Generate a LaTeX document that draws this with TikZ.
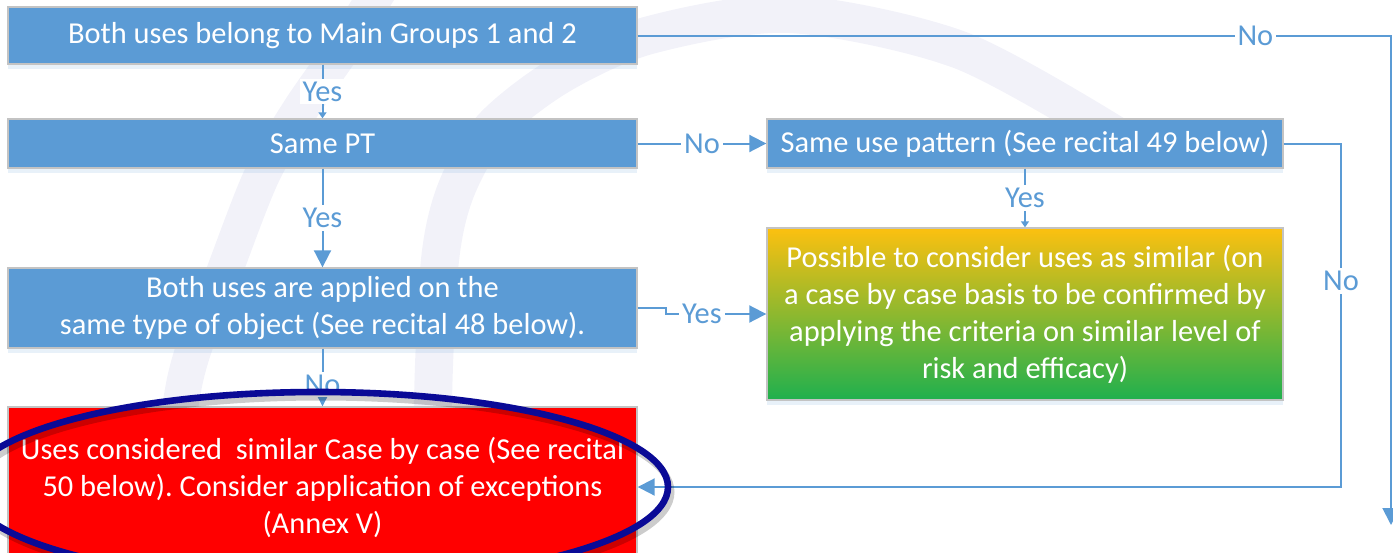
\documentclass[tikz,border=0pt]{standalone}
\usepackage{fontspec}
\setmainfont{Carlito}
\usetikzlibrary{arrows.meta,positioning,calc,shadows}

\definecolor{boxblue}{HTML}{5B9BD5}
\definecolor{boxedge}{HTML}{C3C3C3}
\definecolor{flowblue}{HTML}{5B9BD5}
\definecolor{topamber}{HTML}{FCC010}
\definecolor{botgreen}{HTML}{1FB04E}
\definecolor{ringblue}{HTML}{0A0A96}
\definecolor{markcol}{HTML}{F2F2F9}

\begin{document}
\frenchspacing
\begin{tikzpicture}[x=0.5pt,y=-0.5pt,
    blockbox/.style={draw=boxedge, line width=0.7pt, fill=boxblue, text=white, inner sep=0pt, align=center,
      font=\fontsize{15.2}{18.5}\selectfont,
      drop shadow={shadow xshift=0pt, shadow yshift=-2.5pt, opacity=0.2, fill=boxblue!70}},
    lbl/.style={fill=white, text=flowblue, inner sep=1.5pt, font=\fontsize{15.2}{18.5}\selectfont},
    flow/.style={draw=flowblue, line width=1pt},
    bighead/.style={-{Triangle[length=8.5pt,width=8.5pt]}},
    smallhead/.style={-{Triangle[length=3pt,width=4pt]}}]
    \useasboundingbox (0,0) rectangle (1393,552);

    % watermark in the background
    \draw[markcol, line width=18pt, line cap=round] plot[smooth] coordinates
      {(160,570) (185,380) (225,270) (262,175) (300,110) (345,45) (385,-20)};
    \draw[markcol, line width=19pt, line cap=round] plot[smooth] coordinates
      {(433,570) (433,400) (440,260) (456,190) (492,128) (560,75) (650,35) (790,14) (960,50) (1115,135)};

    % Left column
    \node[blockbox, minimum width=314.5pt, minimum height=28.5pt] (groups) at (322.5,35.5) {Both uses belong to Main Groups 1 and 2};
    \node[blockbox, minimum width=314.5pt, minimum height=24.5pt] (samept) at (322.5,143.5) {Same PT};
    \node[blockbox, minimum width=314.5pt, minimum height=40pt] (object) at (322.5,308)
      {Both uses are applied on the\\same type of object (See recital 48 below).};
    \node[blockbox, fill=red, minimum width=314.5pt, minimum height=80pt] (exceptions) at (322.5,487)
      {Uses considered \ similar Case by case (See recital\\50 below). Consider application of exceptions\\(Annex V)};

    % Right column
    \node[blockbox, minimum width=258pt, minimum height=24.5pt] (pattern) at (1025,143.5) {Same use pattern (See recital 49 below)};
    \node[blockbox, top color=topamber, bottom color=botgreen, minimum width=258pt, minimum height=86pt] (similar) at (1025,314)
      {Possible to consider uses as similar (on\\a case by case basis to be confirmed by\\applying the criteria on similar level of\\risk and efficacy)};

    \coordinate (farright) at (1391,525);
    \coordinate (loopback) at (1341,487);

    % Connectors
    \draw[flow, smallhead] (groups) -- node[lbl]{Yes} (samept);
    \draw[flow, bighead] (samept) -- node[lbl]{Yes} (object);
    \draw[flow, bighead] (object) -- node[lbl, pos=0.62]{No} (exceptions);
    \draw[flow, bighead] (samept) -- node[lbl]{No} (pattern);
    \draw[flow, smallhead] (pattern) -- node[lbl]{Yes} (similar);
    \draw[flow, bighead] (object.east) -- ++(28,0) |- node[lbl, pos=0.68]{Yes} (similar.west);
    \draw[flow, bighead] (groups.east) -- node[lbl, pos=0.82]{No} (groups.east -| farright) -- (farright);
    \draw[flow, bighead] (pattern.east) -| node[lbl, pos=0.7]{No} (loopback) -- (exceptions.east);

    % Highlight ring
    \draw[black, opacity=0.2, line width=3.5pt] (321,492) ellipse [x radius=175pt, y radius=47.5pt];
    \draw[ringblue, line width=3.3pt] (318,487) ellipse [x radius=175pt, y radius=47.5pt];
\end{tikzpicture}
\end{document}
